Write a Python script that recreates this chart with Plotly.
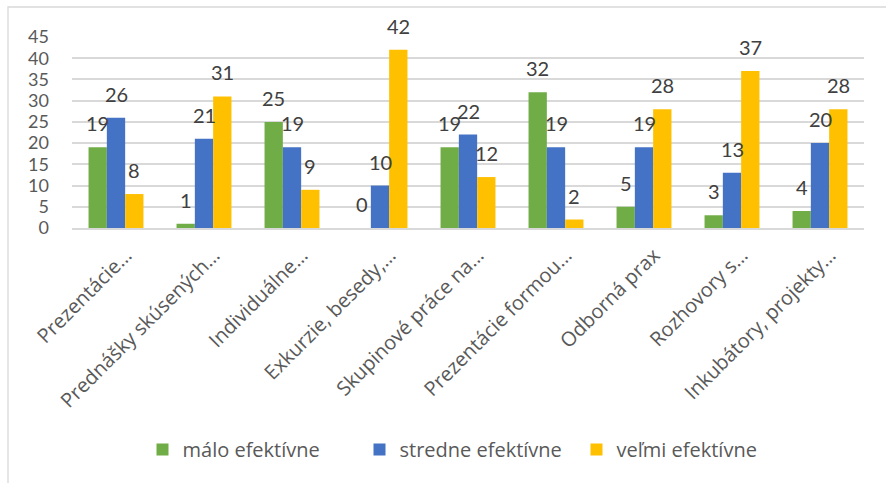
import plotly.graph_objects as go

# Teaching methods (truncated category labels as shown on the axis)
categories = [
    "Prezentácie…",
    "Prednášky skúsených…",
    "Individuálne…",
    "Exkurzie, besedy,…",
    "Skupinové práce na…",
    "Prezentácie formou…",
    "Odborná prax",
    "Rozhovory s…",
    "Inkubátory, projekty…",
]

series_names = ["málo efektívne", "stredne efektívne", "veľmi efektívne"]
malo = [19, 1, 25, 0, 19, 32, 5, 3, 4]
stredne = [26, 21, 19, 10, 22, 19, 19, 13, 20]
velmi = [8, 31, 9, 42, 12, 2, 28, 37, 28]
colors = ["#70AD47", "#4472C4", "#FFC000"]

y_ticks = [0, 5, 10, 15, 20, 25, 30, 35, 40, 45]

W, H = 886, 483
ML, MR, MT, MB = 72, 22, 37, 255
BAR_W = 0.208

fig = go.Figure()
all_series = [malo, stredne, velmi]
for k, (name, vals, col) in enumerate(zip(series_names, all_series, colors)):
    fig.add_trace(go.Bar(
        x=list(range(len(categories))),
        y=vals,
        name=name,
        marker=dict(color=col, line=dict(width=0)),
        width=BAR_W,
        offset=(k - 1.5) * BAR_W,
    ))
    # value labels above each bar
    for i, v in enumerate(vals):
        fig.add_annotation(
            x=i + (k - 1) * BAR_W, y=v, xref="x", yref="y",
            text=str(v), showarrow=False, yshift=24,
            font=dict(family="Lato", size=20, color="#404040"),
        )

# light chart-area border
px_w = W - ML - MR
px_h = H - MT - MB
fig.add_shape(
    type="rect", xref="paper", yref="paper",
    x0=(8 - ML) / px_w, x1=(W + 10 - ML) / px_w,
    y0=(H - MB - (H + 10)) / px_h, y1=(H - MB - 7) / px_h,
    line=dict(color="#D9D9D9", width=1.3), fillcolor="rgba(0,0,0,0)",
    layer="below",
)

fig.update_layout(
    width=W, height=H,
    margin=dict(l=ML, r=MR, t=MT, b=MB, pad=0),
    paper_bgcolor="white", plot_bgcolor="white",
    barmode="overlay",
    showlegend=True,
    legend=dict(
        orientation="h", x=0.50, xanchor="center", y=-1.16, yanchor="middle",
        font=dict(family="Open Sans", size=20, color="#595959"),
        itemwidth=30, traceorder="normal",
        entrywidth=172, entrywidthmode="pixels",
    ),
    xaxis=dict(
        range=[-0.5, len(categories) - 0.5],
        tickmode="array",
        tickvals=list(range(len(categories))),
        ticktext=categories,
        tickangle=-45,
        tickfont=dict(family="Open Sans", size=20, color="#595959"),
        showgrid=False, zeroline=False,
        showline=True, linecolor="#D9D9D9", linewidth=1.5,
        ticks="",
        ticklabelshift=10, ticklabelstandoff=6,
    ),
    yaxis=dict(
        range=[0, 45],
        tickmode="array", tickvals=y_ticks,
        tickfont=dict(family="Lato", size=18, color="#595959"),
        showgrid=True, gridcolor="#D9D9D9", gridwidth=1.5,
        zeroline=False, showline=False, ticks="",
        ticklabelstandoff=22,
    ),
)

fig.write_html("out.html")
